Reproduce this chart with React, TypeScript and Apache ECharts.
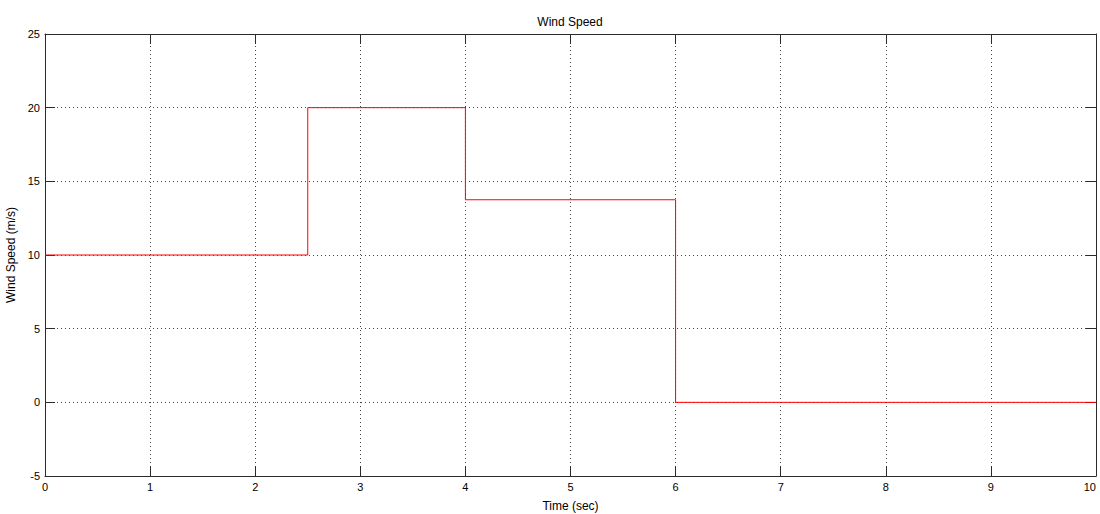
import React, { useEffect, useRef } from "react";
import * as echarts from "echarts";

const TITLE = "Wind Speed";
const X_NAME = "Time (sec)";
const Y_NAME = "Wind Speed (m/s)";
const stepTimes = [0, 2.5, 2.5, 4, 4, 6, 6, 10];
const stepSpeeds = [10, 10, 20, 20, 13.75, 13.75, 0, 0];

const FONT = "Liberation Sans, Arial, sans-serif";
const AXIS_COLOR = "#2b2b2b";

export default function App() {
  const ref = useRef<HTMLDivElement>(null);
  useEffect(() => {
    if (!ref.current) return;
    const chart = echarts.init(ref.current, null, { renderer: "svg" });
    const data = stepTimes.map((t, i) => [t, stepSpeeds[i]]);
    const baseAxis = {
      type: "value" as const,
      axisLine: { show: true, onZero: false, lineStyle: { color: AXIS_COLOR, width: 1 } },
      axisTick: { show: true, inside: true, length: 10, lineStyle: { color: AXIS_COLOR } },
      axisLabel: { color: "#000", fontFamily: FONT, fontSize: 11 },
    };
    chart.setOption({
      animation: false,
      backgroundColor: "#fff",
      title: {
        text: TITLE,
        left: 565,
        top: 11,
        textAlign: "center",
        textStyle: { fontFamily: FONT, fontSize: 12, fontWeight: "normal", color: "#000" },
      },
      grid: { left: 45, right: 4, top: 34, bottom: 38, show: false, outerBoundsMode: "none", containLabel: false },
      xAxis: [
        {
          ...baseAxis,
          min: 0,
          max: 10,
          interval: 1,
          position: "bottom",
          name: X_NAME,
          nameLocation: "middle",
          nameGap: 24,
          nameTextStyle: { fontFamily: FONT, fontSize: 12, color: "#000" },
          axisLabel: { ...baseAxis.axisLabel, margin: 5, alignMaxLabel: "right" },
          splitLine: { show: true, lineStyle: { color: "#444", type: [1, 3], width: 1 } },
        },
        {
          ...baseAxis,
          min: 0,
          max: 10,
          interval: 1,
          position: "top",
          axisLabel: { show: false },
          splitLine: { show: false },
        },
      ],
      yAxis: [
        {
          ...baseAxis,
          min: -5,
          max: 25,
          interval: 5,
          position: "left",
          name: Y_NAME,
          nameLocation: "middle",
          nameGap: 24,
          nameTextStyle: { fontFamily: FONT, fontSize: 12, color: "#000" },
          axisLabel: { ...baseAxis.axisLabel, margin: 5 },
          splitLine: { show: true, lineStyle: { color: "#444", type: [1, 3], width: 1 } },
        },
        {
          ...baseAxis,
          min: -5,
          max: 25,
          interval: 5,
          position: "right",
          axisLabel: { show: false },
          splitLine: { show: false },
        },
      ],
      series: [
        {
          type: "line",
          data,
          xAxisIndex: 0,
          yAxisIndex: 0,
          showSymbol: false,
          lineStyle: { color: "#ff0000", width: 1 },
          z: 5,
        },
      ],
    });
    return () => chart.dispose();
  }, []);
  return <div ref={ref} style={{ position: "fixed", left: 0, top: 0, width: 1100, height: 514 }} />;
}
